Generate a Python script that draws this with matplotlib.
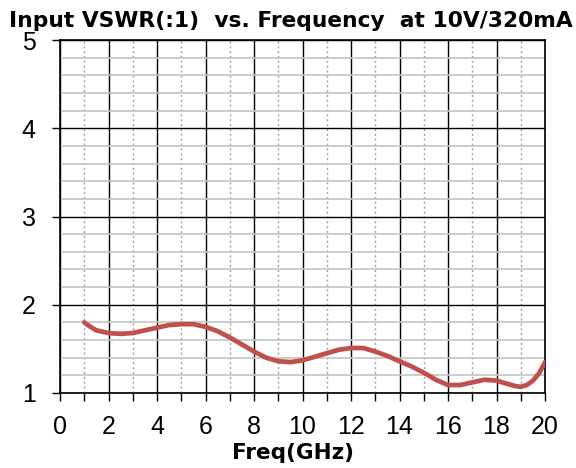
import numpy as np
import matplotlib
matplotlib.use("Agg")
import matplotlib.pyplot as plt
from matplotlib.ticker import MultipleLocator

# VSWR curve
freq = [1, 1.25, 1.5, 2, 2.5, 3, 3.5, 4, 4.5, 5, 5.5, 6, 6.5, 7, 7.5, 8, 8.5,
        9, 9.5, 10, 10.5, 11, 11.5, 12, 12.5, 13, 13.5, 14, 14.5, 15, 15.5,
        16, 16.5, 17, 17.5, 18, 18.5, 18.75, 19, 19.25, 19.5, 19.75, 20]
vswr = [1.80, 1.75, 1.71, 1.68, 1.67, 1.68, 1.71, 1.74, 1.77, 1.78, 1.78, 1.75,
        1.70, 1.63, 1.55, 1.47, 1.40, 1.36, 1.35, 1.37, 1.41, 1.45, 1.49, 1.51,
        1.51, 1.47, 1.42, 1.36, 1.30, 1.23, 1.15, 1.09, 1.09, 1.12, 1.15, 1.14,
        1.10, 1.08, 1.07, 1.09, 1.14, 1.22, 1.35]

x_ticks = [0, 2, 4, 6, 8, 10, 12, 14, 16, 18, 20]
y_ticks = [1, 2, 3, 4, 5]

plt.rcParams['font.family'] = ['Liberation Sans', 'DejaVu Sans']

fig = plt.figure(figsize=(5.76, 4.68), dpi=100)
ax = fig.add_axes([60 / 576, 1 - 393 / 468, 485 / 576, 353 / 468])

ax.plot(freq, vswr, color="#C0504D", linewidth=3.4, solid_capstyle="round",
        solid_joinstyle="round", zorder=3)

ax.set_xlim(0, 20)
ax.set_ylim(1, 5)
ax.set_xticks(x_ticks)
ax.set_yticks(y_ticks)
ax.xaxis.set_minor_locator(MultipleLocator(1))
ax.yaxis.set_minor_locator(MultipleLocator(0.2))

ax.grid(which="major", axis="both", color="black", linewidth=1.0)
ax.grid(which="minor", axis="x", color="#a0a0a0", linestyle=(0, (1.5, 2)), linewidth=1.0)
ax.grid(which="minor", axis="y", color="#c4c4c4", linewidth=1.2)
ax.set_axisbelow(True)

for s in ax.spines.values():
    s.set_color("black")
    s.set_linewidth(1.2)

ax.tick_params(axis="x", which="both", direction="out", length=5.5, width=1,
               labelsize=18, pad=10)
ax.tick_params(axis="y", which="major", direction="out", length=5.5, width=1,
               labelsize=18, pad=12)
ax.tick_params(axis="y", which="minor", length=0)

fig.text(293 / 576, 1 - 459 / 468, "Freq(GHz)", ha="center", va="baseline",
         fontsize=15.5, fontweight="bold", family="DejaVu Sans")
fig.text(291 / 576, 1 - 27 / 468, "Input VSWR(:1)  vs. Frequency  at 10V/320mA",
         ha="center", va="baseline", fontsize=15.7, fontweight="bold",
         family="DejaVu Sans")

fig.savefig("out.png", dpi=100)
